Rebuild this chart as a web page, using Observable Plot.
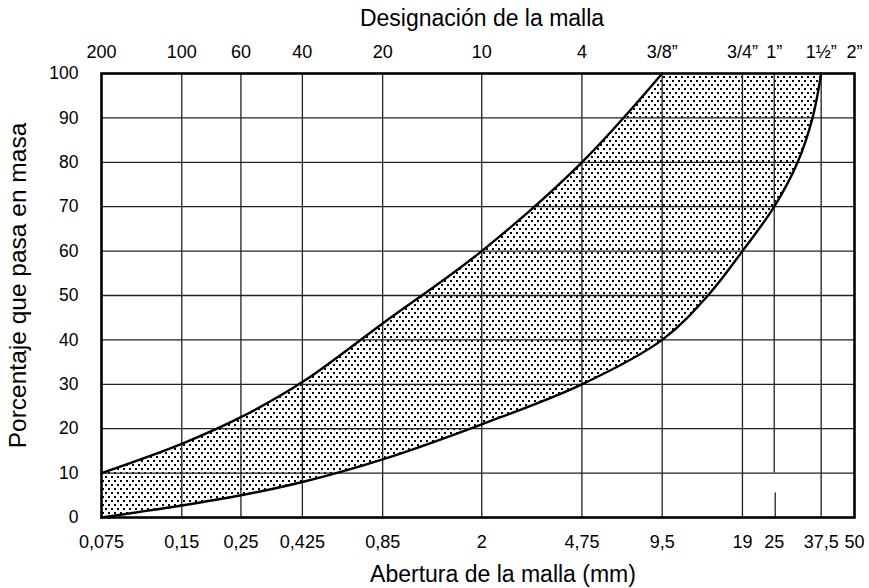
<!DOCTYPE html>
<html>
<head>
<meta charset="utf-8">
<script src="https://cdn.jsdelivr.net/npm/d3@7"></script>
<script src="https://cdn.jsdelivr.net/npm/@observablehq/plot@0.6"></script>
<style>
  html, body { margin: 0; padding: 0; background: white; }
  #chart { width: 869px; height: 588px; }
</style>
</head>
<body>
<div id="chart"></div>
<script>
// Sieve openings (mm) and their labels
const sieveMM = [0.075, 0.15, 0.25, 0.425, 0.85, 2, 4.75, 9.5, 19, 25, 37.5, 50];
const bottomLabels = ["0,075", "0,15", "0,25", "0,425", "0,85", "2", "4,75", "9,5", "19", "25", "37,5", "50"];
const topLabels = ["200", "100", "60", "40", "20", "10", "4", "3/8”", "3/4”", "1”", "1½”", "2”"];
const yTicks = [0, 10, 20, 30, 40, 50, 60, 70, 80, 90, 100];

// Upper limit (percent passing)
const upperMM = [0.075, 0.15, 0.25, 0.425, 0.85, 2, 4.75, 9.5, 19, 25, 37.5];
const upperPct = [10, 16.6, 22.6, 30.5, 43.7, 60, 80, 100, 100, 100, 100];

// Lower limit (percent passing)
const lowerMM = [0.075, 0.15, 0.25, 0.425, 0.85, 2, 4.75, 9.5, 14.1, 19, 25, 30.6, 34.8, 37.5];
const lowerPct = [0, 2.7, 5, 8, 13.1, 21, 30, 40, 50, 60, 70, 80, 90, 100];

const upper = upperMM.map((x, i) => ({x, y: upperPct[i]}));
const lower = lowerMM.map((x, i) => ({x, y: lowerPct[i]}));
const firstFull = upper.findIndex(d => d.y >= 100);
const upperCurve = upper.slice(0, firstFull + 1);
const upperFlat = upper.slice(firstFull);

const bottomMap = new Map(sieveMM.map((v, i) => [v, bottomLabels[i]]));
const topMap = new Map(sieveMM.map((v, i) => [v, topLabels[i]]));

const gridX = sieveMM.slice(1, -1).filter(v => v !== 25);
const CURVE = "catmull-rom";

const chart = Plot.plot({
  width: 869,
  height: 588,
  marginLeft: 101,
  marginRight: 15,
  marginTop: 73,
  marginBottom: 71,
  style: {fontFamily: "'Liberation Sans', Arial, sans-serif", fontSize: "17.5px", color: "black", background: "white"},
  x: {type: "log", domain: [0.075, 50], axis: null},
  y: {domain: [0, 100], axis: null},
  marks: [
    Plot.areaY(upperCurve, {x: "x", y1: 0, y2: "y", fill: "url(#dots)", curve: CURVE}),
    Plot.areaY(upperFlat, {x: "x", y1: 0, y2: "y", fill: "url(#dots)"}),
    Plot.areaY(lower, {x: "x", y1: 0, y2: "y", fill: "white", curve: CURVE}),
    Plot.ruleY(yTicks.slice(1, -1), {stroke: "#222", strokeWidth: 1.3}),
    Plot.ruleX(gridX, {stroke: "#222", strokeWidth: 1.3}),
    Plot.ruleX([25], {y1: 10, y2: 100, stroke: "#222", strokeWidth: 1.3}),
    Plot.ruleX([25], {y1: 0, y2: 5.5, stroke: "#222", strokeWidth: 1.3, dx: 1}),
    Plot.line(upperCurve, {x: "x", y: "y", stroke: "black", strokeWidth: 2.4, curve: CURVE}),
    Plot.line(lower, {x: "x", y: "y", stroke: "black", strokeWidth: 2.4, curve: CURVE}),
    Plot.frame({stroke: "black", strokeWidth: 2.6}),
    Plot.text(sieveMM, {x: d => d, frameAnchor: "bottom", lineAnchor: "middle", textAnchor: "middle", dy: 25, text: d => bottomMap.get(d), fontSize: 18}),
    Plot.text(sieveMM, {x: d => d, frameAnchor: "top", lineAnchor: "middle", textAnchor: "middle", dy: -21, text: d => topMap.get(d), fontSize: 18}),
    Plot.axisY(yTicks, {anchor: "left", tickSize: 0, tickPadding: 23, fontSize: 17.5, label: null}),
    Plot.text(["Designación de la malla"], {frameAnchor: "top", lineAnchor: "middle", textAnchor: "middle", dy: -55, dx: 4, fontSize: 23}),
    Plot.text(["Abertura de la malla (mm)"], {frameAnchor: "bottom", lineAnchor: "middle", textAnchor: "middle", dy: 57, dx: 25, fontSize: 23}),
    Plot.text(["Porcentaje que pasa en masa"], {frameAnchor: "left", lineAnchor: "middle", textAnchor: "middle", dx: -83, dy: -10, rotate: -90, fontSize: 24.5})
  ]
});

const ns = "http://www.w3.org/2000/svg";
const defs = document.createElementNS(ns, "defs");
const pat = document.createElementNS(ns, "pattern");
pat.setAttribute("id", "dots");
pat.setAttribute("patternUnits", "userSpaceOnUse");
pat.setAttribute("width", "6");
pat.setAttribute("height", "8");
[[0, 0], [3, 4]].forEach(([px, py]) => {
  const r = document.createElementNS(ns, "rect");
  r.setAttribute("x", px);
  r.setAttribute("y", py);
  r.setAttribute("width", "2");
  r.setAttribute("height", "2");
  r.setAttribute("fill", "black");
  pat.appendChild(r);
});
defs.appendChild(pat);
chart.insertBefore(defs, chart.firstChild);

document.getElementById("chart").appendChild(chart);
</script>
</body>
</html>
